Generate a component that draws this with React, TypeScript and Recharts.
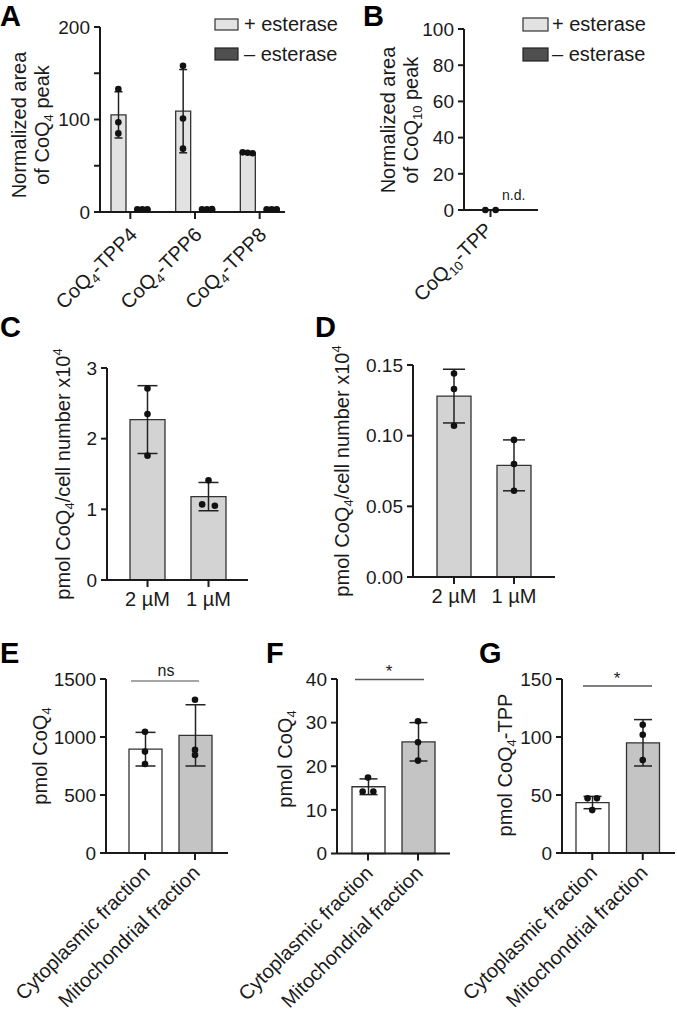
import React from 'react';
import { ComposedChart, Bar, Line, XAxis, YAxis, ErrorBar, Cell } from 'recharts';

const FONT = '"Liberation Sans", Arial, Helvetica, sans-serif';
const INK = '#1a1a1a';

// ---------- Panel A ----------
const A_categories = ['CoQ4-TPP4', 'CoQ4-TPP6', 'CoQ4-TPP8'];
const A_tickLabels = [['CoQ', '4', '-TPP4'], ['CoQ', '4', '-TPP6'], ['CoQ', '4', '-TPP8']];
const A_plusMean = [105, 109, 64];
const A_plusSd = [25, 45, 1];
const A_plusPoints = [[133, 97, 85], [158, 101, 68.5], [64.5, 64, 63.5]];
const A_minusMean = [3, 3, 3];
const A_minusSd = [0.4, 0.4, 0.4];
const A_minusPoints = [[2.8, 3, 2.9], [3, 2.8, 3.1], [2.9, 3, 3]];
const A_yTicks = [0, 50, 100, 150, 200];
const A_yTickLabels = ['0', '', '100', '', '200'];

// ---------- Panel B ----------
const B_categories = ['CoQ10-TPP'];
const B_tickLabels = [['CoQ', '10', '-TPP']];
const B_plusMean = [0];
const B_plusSd = [0];
const B_plusPoints = [[0, 0]];
const B_yTicks = [0, 20, 40, 60, 80, 100];
const B_yTickLabels = ['0', '20', '40', '60', '80', '100'];

// ---------- Panel C ----------
const C_categories = ['2 µM', '1 µM'];
const C_mean = [2.27, 1.18];
const C_sd = [0.48, 0.2];
const C_points = [[2.71, 2.35, 1.76], [1.41, 1.07, 1.05]];
const C_yTicks = [0, 1, 2, 3];
const C_yTickLabels = ['0', '1', '2', '3'];

// ---------- Panel D ----------
const D_categories = ['2 µM', '1 µM'];
const D_mean = [0.128, 0.079];
const D_sd = [0.019, 0.018];
const D_points = [[0.144, 0.133, 0.107], [0.097, 0.08, 0.061]];
const D_yTicks = [0, 0.05, 0.1, 0.15];
const D_yTickLabels = ['0.00', '0.05', '0.10', '0.15'];

// ---------- Panels E, F, G ----------
const EFG_categories = ['Cytoplasmic fraction', 'Mitochondrial fraction'];
const EFG_tickLabels = [['Cytoplasmic fraction'], ['Mitochondrial fraction']];

const E_mean = [895, 1014];
const E_sd = [145, 264];
const E_points = [[1045, 874, 767], [1321, 889, 845]];
const E_yTicks = [0, 500, 1000, 1500];
const E_yTickLabels = ['0', '500', '1000', '1500'];

const F_mean = [15.3, 25.6];
const F_sd = [1.8, 4.4];
const F_points = [[17.4, 14.2, 14.2], [30.3, 25.5, 21.3]];
const F_yTicks = [0, 10, 20, 30, 40];
const F_yTickLabels = ['0', '10', '20', '30', '40'];

const G_mean = [43.5, 95];
const G_sd = [5.3, 20];
const G_points = [[47.1, 47.1, 37], [110.5, 102, 80.2]];
const G_yTicks = [0, 50, 100, 150];
const G_yTickLabels = ['0', '50', '100', '150'];

// ---------- helpers ----------
type Series = { key: string; mean: number[]; sd: number[]; pts: number[][] };

function buildRows(cats: string[], series: Series[]) {
  return cats.map((cat, i) => {
    const row: any = { cat };
    series.forEach((s) => {
      row[s.key] = s.mean[i];
      row[s.key + 'Sd'] = s.sd[i];
      s.pts[i].forEach((v, j) => {
        row[`${s.key}_p${j}`] = v;
      });
    });
    return row;
  });
}

function spreadOffset(vals: number[], idx: number, thr: number) {
  const group = vals.map((_, j) => j).filter((j) => Math.abs(vals[j] - vals[idx]) < thr);
  const pos = group.indexOf(idx);
  return pos - (group.length - 1) / 2;
}

const makeDot = (key: string, j: number, nPts: number, shift: number, spacing: number, thr: number) => (props: any) => {
  const { cx, cy, payload, index } = props;
  const k0 = `${key}-${j}-${index}`;
  if (cx == null || cy == null || payload == null) return <g key={k0} />;
  const vals = Array.from({ length: nPts }, (_, t) => payload[`${key}_p${t}`]);
  const k = spreadOffset(vals, j, thr);
  return <circle key={k0} cx={cx + shift + k * spacing} cy={cy} r={3.3} fill="#111" />;
};

type Part = { t: string; s?: 'sub' | 'sup' };

// renders text parts with sub/superscripts, resetting the baseline on the following part
function rich(parts: Part[], fs: number) {
  const small = fs * 0.65;
  let cur = 0;
  return parts.map((p, i) => {
    const target = p.s === 'sub' ? fs * 0.22 : p.s === 'sup' ? -fs * 0.38 : 0;
    const dy = target - cur;
    cur = target;
    return (
      <tspan key={i} fontSize={p.s ? small : fs} dy={dy !== 0 ? dy : undefined}>
        {p.t}
      </tspan>
    );
  });
}

const XTickRot = (labels: string[][], fs: number, dx: number, dy: number) => (props: any) => {
  const { x, y, index } = props;
  const raw = labels[index] ?? [''];
  const parts: Part[] = raw.map((t, i) => (i === 1 ? { t, s: 'sub' } : { t }));
  return (
    <g transform={`translate(${x + dx},${y + dy}) rotate(-45)`}>
      <text textAnchor="end" fontSize={fs} fontFamily={FONT} fill={INK}>
        {rich(parts, fs)}
      </text>
    </g>
  );
};

const XTickFlat = (labels: string[], fs: number, dy: number) => (props: any) => {
  const { x, y, index } = props;
  return (
    <text x={x} y={y + dy} textAnchor="middle" fontSize={fs} fontFamily={FONT} fill={INK}>
      {labels[index]}
    </text>
  );
};

type BarCfg = { key: string; fill: string[]; stroke: string; shift: number; barSize: number; errors: boolean };

type PanelCfg = {
  rows: any[];
  x0: number;
  x1: number;
  yT: number;
  yB: number;
  yMax: number;
  ticks: number[];
  tickLabels: string[];
  padL: number;
  padR: number;
  bars: BarCfg[];
  barGap: number;
  capW: number;
  nPts: number;
  spacing: number;
  xTick: (p: any) => any;
};

function Panel(p: PanelCfg) {
  const YW = 110;
  const MT = 15;
  const XH = 170;
  const MR = 2;
  const w = YW + (p.x1 - p.x0) + MR;
  const h = MT + (p.yB - p.yT) + XH;
  const thr = p.yMax * 0.025;
  const bars = p.bars.map((b) => (
    <Bar
      key={b.key}
      dataKey={b.key}
      barSize={b.barSize}
      stroke={b.stroke}
      strokeWidth={1.3}
      isAnimationActive={false}
    >
      {p.rows.map((_, i) => (
        <Cell key={`c-${b.key}-${i}`} fill={b.fill[i % b.fill.length]} />
      ))}
      {b.errors ? (
        <ErrorBar dataKey={`${b.key}Sd`} width={p.capW} stroke="#222" strokeWidth={1.5} direction="y" />
      ) : null}
    </Bar>
  ));
  const lines: any[] = [];
  p.bars.forEach((b) => {
    for (let j = 0; j < p.nPts; j++) {
      lines.push(
        <Line
          key={`l-${b.key}-${j}`}
          dataKey={`${b.key}_p${j}`}
          stroke="none"
          dot={makeDot(b.key, j, p.nPts, b.shift, p.spacing, thr)}
          activeDot={false}
          isAnimationActive={false}
          legendType="none"
        />
      );
    }
  });
  return (
    <div style={{ position: 'absolute', left: p.x0 - YW, top: p.yT - MT, width: w, height: h }}>
      <ComposedChart
        width={w}
        height={h}
        data={p.rows}
        margin={{ top: MT, right: MR, bottom: 0, left: 0 }}
        barGap={p.barGap}
      >
        <XAxis
          dataKey="cat"
          type="category"
          allowDuplicatedCategory={false}
          interval={0}
          height={XH}
          padding={{ left: p.padL, right: p.padR }}
          axisLine={{ stroke: INK, strokeWidth: 2 }}
          tickLine={{ stroke: INK, strokeWidth: 2 }}
          tickSize={7}
          tickMargin={0}
          tick={p.xTick}
        />
        <YAxis
          type="number"
          domain={[0, p.yMax]}
          ticks={p.ticks}
          interval={0}
          width={YW}
          axisLine={{ stroke: INK, strokeWidth: 2 }}
          tickLine={{ stroke: INK, strokeWidth: 2 }}
          tickSize={6}
          tickMargin={4}
          tick={{ fontSize: 19, fill: INK, fontFamily: FONT }}
          tickFormatter={(v: number) => p.tickLabels[p.ticks.indexOf(v)] ?? ''}
        />
        {bars}
        {lines}
      </ComposedChart>
    </div>
  );
}

function Overlay() {
  const fs = 20;
  const letter = { fontSize: 29, fontWeight: 700, fontFamily: FONT, fill: '#000' } as any;
  const txt = { fontSize: fs, fontFamily: FONT, fill: INK } as any;
  const coq4: Part[] = [{ t: 'pmol CoQ' }, { t: '4', s: 'sub' }];
  const perCell: Part[] = [...coq4, { t: '/cell number x10' }, { t: '4', s: 'sup' }];
  return (
    <svg
      width={677}
      height={1011}
      style={{ position: 'absolute', left: 0, top: 0, pointerEvents: 'none' }}
    >
      {/* panel letters */}
      <text x={0} y={26} {...letter}>A</text>
      <text x={363} y={26} {...letter}>B</text>
      <text x={0} y={337} {...letter}>C</text>
      <text x={315} y={337} {...letter}>D</text>
      <text x={0} y={663} {...letter}>E</text>
      <text x={266} y={663} {...letter}>F</text>
      <text x={479} y={663} {...letter}>G</text>

      {/* A y label */}
      <text transform="translate(26,125) rotate(-90)" textAnchor="middle" {...txt}>Normalized area</text>
      <text transform="translate(49,125) rotate(-90)" textAnchor="middle" {...txt}>
        {rich([{ t: 'of CoQ' }, { t: '4', s: 'sub' }, { t: ' peak' }], fs)}
      </text>
      {/* B y label */}
      <text transform="translate(395,120) rotate(-90)" textAnchor="middle" {...txt}>Normalized area</text>
      <text transform="translate(418,120) rotate(-90)" textAnchor="middle" {...txt}>
        {rich([{ t: 'of CoQ' }, { t: '10', s: 'sub' }, { t: ' peak' }], fs)}
      </text>
      {/* C, D y labels */}
      <text transform="translate(70,474) rotate(-90)" textAnchor="middle" {...txt}>
        {rich(perCell, fs)}
      </text>
      <text transform="translate(349,471) rotate(-90)" textAnchor="middle" {...txt}>
        {rich(perCell, fs)}
      </text>
      {/* E, F, G y labels */}
      <text transform="translate(47,756) rotate(-90)" textAnchor="middle" {...txt}>
        {rich(coq4, fs)}
      </text>
      <text transform="translate(292,759) rotate(-90)" textAnchor="middle" {...txt}>
        {rich(coq4, fs)}
      </text>
      <text transform="translate(512,765) rotate(-90)" textAnchor="middle" {...txt}>
        {rich([...coq4, { t: '-TPP' }], fs)}
      </text>

      {/* legends */}
      <rect x={215} y={19} width={23} height={11} fill="#E2E2E2" stroke="#333" strokeWidth={1.2} />
      <text x={244} y={31} {...txt}>+ esterase</text>
      <rect x={215} y={48} width={23} height={12} fill="#4F4F4F" stroke="#222" strokeWidth={1.2} />
      <text x={244} y={61} {...txt}>– esterase</text>
      <rect x={523} y={18} width={25} height={13} fill="#E2E2E2" stroke="#333" strokeWidth={1.2} />
      <text x={552} y={31} {...txt}>+ esterase</text>
      <rect x={523} y={48} width={25} height={13} fill="#4F4F4F" stroke="#222" strokeWidth={1.2} />
      <text x={552} y={61} {...txt}>– esterase</text>

      {/* n.d. */}
      <text x={502} y={200} fontSize={14} fontFamily={FONT} fill={INK}>n.d.</text>

      {/* significance */}
      <line x1={131} y1={681} x2={199} y2={681} stroke="#888" strokeWidth={1.3} />
      <text x={166} y={676} textAnchor="middle" fontSize={16} fontFamily={FONT} fill={INK}>ns</text>
      <line x1={355} y1={679.5} x2={424} y2={679.5} stroke="#555" strokeWidth={1.3} />
      <text x={389} y={677} textAnchor="middle" fontSize={17} fontFamily={FONT} fill={INK}>*</text>
      <line x1={583} y1={686} x2={652} y2={686} stroke="#555" strokeWidth={1.3} />
      <text x={617} y={684} textAnchor="middle" fontSize={17} fontFamily={FONT} fill={INK}>*</text>
    </svg>
  );
}

export default function App() {
  const A_rows = buildRows(A_categories, [
    { key: 'plus', mean: A_plusMean, sd: A_plusSd, pts: A_plusPoints },
    { key: 'minus', mean: A_minusMean, sd: A_minusSd, pts: A_minusPoints },
  ]);
  const B_rows = buildRows(B_categories, [{ key: 'plus', mean: B_plusMean, sd: B_plusSd, pts: B_plusPoints }]);
  const C_rows = buildRows(C_categories, [{ key: 'v', mean: C_mean, sd: C_sd, pts: C_points }]);
  const D_rows = buildRows(D_categories, [{ key: 'v', mean: D_mean, sd: D_sd, pts: D_points }]);
  const E_rows = buildRows(EFG_categories, [{ key: 'v', mean: E_mean, sd: E_sd, pts: E_points }]);
  const F_rows = buildRows(EFG_categories, [{ key: 'v', mean: F_mean, sd: F_sd, pts: F_points }]);
  const G_rows = buildRows(EFG_categories, [{ key: 'v', mean: G_mean, sd: G_sd, pts: G_points }]);

  const aBarSize = 15;
  const aGap = 9;
  const aShift = (aBarSize + aGap) / 2;
  const efgFill = ['#FFFFFF', '#C4C4C4'];

  return (
    <div
      style={{
        position: 'absolute',
        left: 0,
        top: 0,
        width: 677,
        height: 1011,
        overflow: 'hidden',
        background: '#fff',
      }}
    >
      <Panel
        rows={A_rows}
        x0={100}
        x1={285}
        yT={27}
        yB={212}
        yMax={200}
        ticks={A_yTicks}
        tickLabels={A_yTickLabels}
        padL={-2}
        padR={-7}
        barGap={aGap}
        capW={4}
        nPts={3}
        spacing={5}
        bars={[
          { key: 'plus', fill: ['#E2E2E2'], stroke: '#333', shift: -aShift, barSize: aBarSize, errors: true },
          { key: 'minus', fill: ['#4F4F4F'], stroke: '#222', shift: aShift, barSize: aBarSize, errors: true },
        ]}
        xTick={XTickRot(A_tickLabels, 20, 8, 17)}
      />
      <Panel
        rows={B_rows}
        x0={464}
        x1={538}
        yT={29}
        yB={210}
        yMax={100}
        ticks={B_yTicks}
        tickLabels={B_yTickLabels}
        padL={0}
        padR={21}
        barGap={4}
        capW={4}
        nPts={2}
        spacing={10.3}
        bars={[{ key: 'plus', fill: ['#E2E2E2'], stroke: '#333', shift: 0, barSize: 15, errors: false }]}
        xTick={XTickRot(B_tickLabels, 20, 3, 14)}
      />
      <Panel
        rows={C_rows}
        x0={107}
        x1={248}
        yT={368}
        yB={580}
        yMax={3}
        ticks={C_yTicks}
        tickLabels={C_yTickLabels}
        padL={10}
        padR={9}
        barGap={4}
        capW={10}
        nPts={3}
        spacing={12.7}
        bars={[{ key: 'v', fill: ['#D3D3D3'], stroke: '#333', shift: 0, barSize: 35, errors: true }]}
        xTick={XTickFlat(C_categories, 20, 19)}
      />
      <Panel
        rows={D_rows}
        x0={413}
        x1={555}
        yT={365}
        yB={577}
        yMax={0.15}
        ticks={D_yTicks}
        tickLabels={D_yTickLabels}
        padL={11}
        padR={11}
        barGap={4}
        capW={11}
        nPts={3}
        spacing={12}
        bars={[{ key: 'v', fill: ['#D3D3D3'], stroke: '#333', shift: 0, barSize: 34, errors: true }]}
        xTick={XTickFlat(D_categories, 20, 19)}
      />
      <Panel
        rows={E_rows}
        x0={106}
        x1={228}
        yT={679}
        yB={853}
        yMax={1500}
        ticks={E_yTicks}
        tickLabels={E_yTickLabels}
        padL={14}
        padR={8}
        barGap={4}
        capW={10}
        nPts={3}
        spacing={10}
        bars={[{ key: 'v', fill: efgFill, stroke: '#333', shift: 0, barSize: 33, errors: true }]}
        xTick={XTickRot(EFG_tickLabels, 20, 6, 14)}
      />
      <Panel
        rows={F_rows}
        x0={337}
        x1={450}
        yT={678.5}
        yB={853}
        yMax={40}
        ticks={F_yTicks}
        tickLabels={F_yTickLabels}
        padL={6}
        padR={7}
        barGap={4}
        capW={9}
        nPts={3}
        spacing={10.7}
        bars={[{ key: 'v', fill: efgFill, stroke: '#333', shift: 0, barSize: 33, errors: true }]}
        xTick={XTickRot(EFG_tickLabels, 20, 6, 14)}
      />
      <Panel
        rows={G_rows}
        x0={562}
        x1={675}
        yT={679}
        yB={853}
        yMax={150}
        ticks={G_yTicks}
        tickLabels={G_yTickLabels}
        padL={5}
        padR={7}
        barGap={4}
        capW={9}
        nPts={3}
        spacing={9.4}
        bars={[{ key: 'v', fill: efgFill, stroke: '#333', shift: 0, barSize: 33, errors: true }]}
        xTick={XTickRot(EFG_tickLabels, 20, 6, 14)}
      />
      <Overlay />
    </div>
  );
}
